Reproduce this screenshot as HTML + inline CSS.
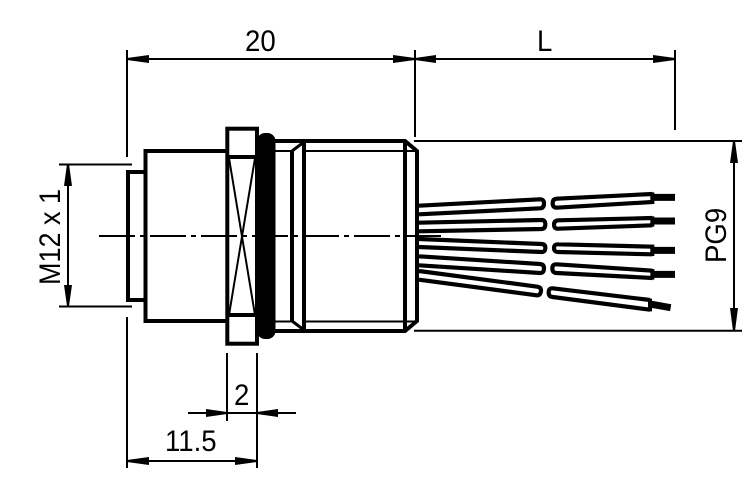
<!DOCTYPE html>
<html>
<head>
<meta charset="utf-8">
<style>
html,body{margin:0;padding:0;background:#fff;width:756px;height:496px;overflow:hidden}
svg{display:block}
text{font-family:"Liberation Sans",sans-serif;font-size:30px;fill:#000}
</style>
</head>
<body>
<svg width="756" height="496" viewBox="0 0 756 496" xmlns="http://www.w3.org/2000/svg">
<rect width="756" height="496" fill="#fff"/>

<!-- centre line -->
<line x1="99" y1="236" x2="441" y2="236" stroke="#000" stroke-width="2" stroke-dasharray="36 5 5 5"/>

<!-- connector body -->
<g fill="none" stroke="#000" stroke-width="4" stroke-linejoin="miter">
  <path d="M145,172 H128 V300 H145"/>
  <path d="M227,151 H145.500 V321 H227"/>
  <rect x="227.300" y="128.700" width="29.700" height="215"/>
  <path d="M227,157 H257 M227,315 H257"/>
  <path d="M275,141 H405 L417,151 V321 L405,331 H275"/>
  <path d="M292,150 V322 M304,141 V331 M405,141 V331"/>
  <path d="M292,151 L304,142 M292,321 L304,330" stroke-width="3"/>
  <path d="M275,151 H292 M306,151 H417 M275,321.500 H292 M306,321.500 H417" stroke-width="2"/>
</g>
<path d="M229,158 L255,315 M255,158 L229,315" stroke="#000" stroke-width="2" fill="none"/>
<rect x="257" y="133" width="18.500" height="206" rx="8" ry="8" fill="#000"/>

<!-- wires -->
<g transform="translate(400,130) scale(0.33333)" fill="none" stroke="#000" stroke-width="12.500" stroke-linejoin="round">
  <path d="M57,227 L420,208 Q432,208 432,220 Q432,234 420,235 L57,253"/>
  <path d="M757,192 L470,206 Q458,207 458,220 Q458,233 470,233 L757,216"/>
  <path d="M57,278 L425,270 Q436,270 436,283 Q436,296 425,297 L57,304"/>
  <path d="M757,264 L475,271 Q462,272 462,284 Q462,297 475,296 L757,286"/>
  <path d="M57,327 L425,342 Q436,343 436,353 Q436,366 425,366 L57,351"/>
  <path d="M757,350 L475,343 Q462,342 462,354 Q462,366 475,366 L757,373"/>
  <path d="M57,379 L420,402 Q432,403 432,415 Q432,429 420,429 L57,406"/>
  <path d="M757,422 L470,403 Q457,402 457,415 Q457,429 470,429 L757,444"/>
  <path d="M57,423 L412,470 Q424,472 423,483 Q421,497 410,496 L57,449"/>
  <path d="M750,510 L458,475 Q446,474 446,487 Q446,500 458,501 L750,539"/>
  <path d="M757,187 V222 M757,259 V290 M757,344 V378 M757,417 V449 M750,506 V544" stroke-width="12"/>
  <path d="M757,202 H825 M757,273 H825 M757,361 H825 M757,433 H825 M750,522 L812,533" stroke-width="21"/>
</g>

<!-- dimension / extension lines -->
<g fill="none" stroke="#000" stroke-width="2">
  <path d="M127,50 V157 M127,317 V468"/>
  <path d="M415,50 V137 M675,50 V130"/>
  <path d="M127,59 H415 H653"/>
  <path d="M415,59 H675"/>
  <path d="M59,164.500 H132 M59,306.500 H132"/>
  <path d="M68,164 V306"/>
  <path d="M414,141 H742 M414,330.800 H742"/>
  <path d="M734,141 V331"/>
  <path d="M227,353 V421 M257,353 V468"/>
  <path d="M188,413 H296"/>
  <path d="M127,461 H257"/>
</g>

<!-- arrowheads -->
<g fill="#000">
  <path d="M127,58 L149,55 V63 L127,60 Z"/>
  <path d="M415,58 L393,55 V63 L415,60 Z"/>
  <path d="M415,58 L436,55 V63 L415,60 Z"/>
  <path d="M675,58 L653,55 V63 L675,60 Z"/>
  <path d="M67,164 L64,186 H72 L69,164 Z"/>
  <path d="M67,306 L64,285 H72 L69,306 Z"/>
  <path d="M733,141 L730,163 H738 L735,141 Z"/>
  <path d="M733,331 L730,308 H738 L735,331 Z"/>
  <path d="M227,412 L206,409 V417 L227,414 Z"/>
  <path d="M257,412 L278,409 V417 L257,414 Z"/>
  <path d="M127,460 L149,457 V465 L127,462 Z"/>
  <path d="M257,460 L235,457 V465 L257,462 Z"/>
</g>

<!-- labels -->
<text transform="translate(245,51) scale(0.92,1)">20</text>
<text transform="translate(537,51) scale(0.92,1)">L</text>
<text transform="translate(234,405) scale(0.92,1)">2</text>
<text transform="translate(165,451) scale(0.92,1)">11.5</text>
<text transform="translate(60,285) rotate(-90) scale(0.9,1)">M12 x 1</text>
<text transform="translate(726,263) rotate(-90) scale(0.92,1)">PG9</text>
</svg>
</body>
</html>
